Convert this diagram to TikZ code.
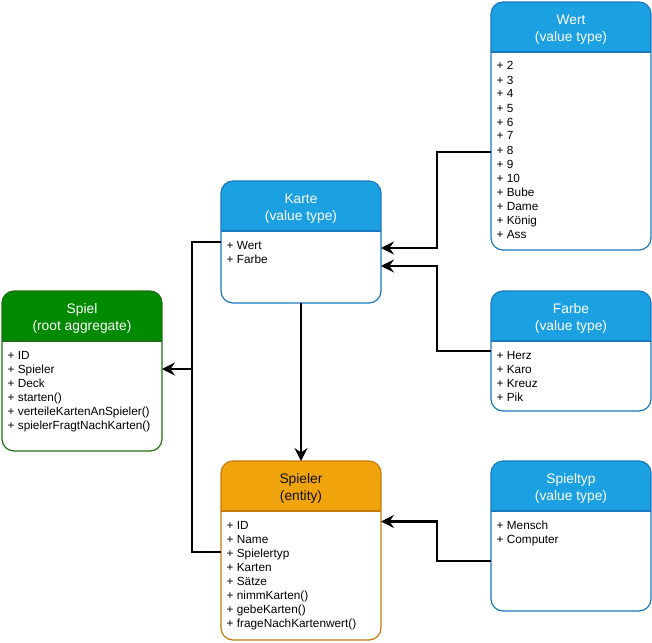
\documentclass[tikz,border=0pt]{standalone}
\usepackage{fontspec}
\setmainfont{Liberation Sans}
\usetikzlibrary{arrows.meta}

% colour schemes: header fill, frame line, title text
\definecolor{bluehead}{HTML}{1BA1E2}
\definecolor{blueline}{HTML}{1A78BE}
\definecolor{bluetitle}{HTML}{FFFFFF}
\definecolor{greenhead}{HTML}{008A00}
\definecolor{greenline}{HTML}{1E6E12}
\definecolor{greentitle}{HTML}{FFFFFF}
\definecolor{orangehead}{HTML}{F0A30A}
\definecolor{orangeline}{HTML}{C47B0C}
\definecolor{orangetitle}{HTML}{111111}

\tikzset{
  classframe/.style={minimum width=160pt, inner sep=0pt, outer sep=0pt},
  titletext/.style={align=center, inner sep=0pt, font=\fontsize{13.8}{16.8}\selectfont},
  membertext/.style={inner sep=0pt, font=\fontsize{11.8}{14}\selectfont},
  conn/.style={line width=2.2pt, black},
  arrowconn/.style={conn, -{Stealth[length=13pt, width=13pt, inset=4.5pt]}},
}

% #1 name, #2 left, #3 top, #4 height, #5 colour scheme, #6 title, #7 members
\newcommand\classbox[7]{%
  \node[classframe, minimum height=#4pt, anchor=north west] (#1) at (#2pt,-#3pt) {};
  \fill[white, rounded corners=12pt] (#1.north west) rectangle (#1.south east);
  \begin{scope}
    \clip[rounded corners=12pt] (#1.north west) rectangle (#1.south east);
    \fill[#5head] (#1.north west) rectangle ([yshift=-50pt]#1.north east);
  \end{scope}
  \draw[#5line, line width=1.2pt, rounded corners=12pt] (#1.north west) rectangle (#1.south east);
  \draw[#5line, line width=1.2pt] ([yshift=-50pt]#1.north west) -- ([yshift=-50pt]#1.north east);
  \node[titletext, text=#5title] at ([yshift=-27.5pt]#1.north) {#6};
  \node[membertext, anchor=base west] at ([xshift=5.5pt,yshift=-68pt]#1.north west)
    {\parbox[t]{148pt}{\raggedright #7}};
}

\begin{document}
\begin{tikzpicture}[x=1pt, y=1pt]
\useasboundingbox (0,0) rectangle (652,-642);

\classbox{Spiel}{2}{291}{160}{green}{Spiel\\(root aggregate)}
  {+ ID\\+ Spieler\\+ Deck\\+ starten()\\+ verteileKartenAnSpieler()\\+ spielerFragtNachKarten()}
\classbox{Karte}{221}{181}{122}{blue}{Karte\\(value type)}
  {+ Wert\\+ Farbe}
\classbox{Spieler}{221}{461}{179}{orange}{Spieler\\(entity)}
  {+ ID\\+ Name\\+ Spielertyp\\+ Karten\\+ Sätze\\+ nimmKarten()\\+ gebeKarten()\\+ frageNachKartenwert()}
\classbox{Wert}{491}{2}{248}{blue}{Wert\\(value type)}
  {+ 2\\+ 3\\+ 4\\+ 5\\+ 6\\+ 7\\+ 8\\+ 9\\+ 10\\+ Bube\\+ Dame\\+ König\\+ Ass}
\classbox{Farbe}{491}{291}{120}{blue}{Farbe\\(value type)}
  {+ Herz\\+ Karo\\+ Kreuz\\+ Pik}
\classbox{Spieltyp}{491}{461}{150}{blue}{Spieltyp\\(value type)}
  {+ Mensch\\+ Computer}

% junction where Karte and Spieler meet before entering Spiel
\coordinate (spielbus) at (192,-369);

\draw[conn] (Karte.west) -| (spielbus);
\draw[conn] ([yshift=-1.5pt]Spieler.west) -| (spielbus);
\draw[arrowconn] (spielbus) -- (Spiel.east |- spielbus);

\draw[arrowconn] (Karte.south) -- (Spieler.north);

\draw[arrowconn] ([yshift=-26pt]Wert.west) -- ++(-54,0) |- ([yshift=-6pt]Karte.east);
\draw[arrowconn] (Farbe.west) -- ++(-54,0) |- ([yshift=-24pt]Karte.east);
\draw[arrowconn] ([yshift=-25pt]Spieltyp.west) -- ++(-54,0) |- ([yshift=29pt]Spieler.east);
\end{tikzpicture}
\end{document}
